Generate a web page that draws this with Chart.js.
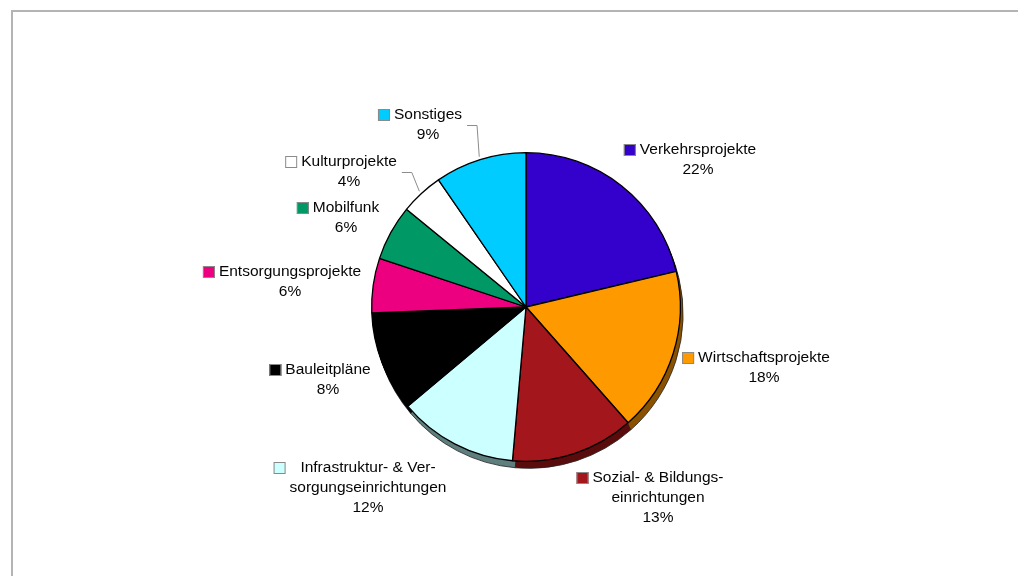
<!DOCTYPE html>
<html>
<head>
<meta charset="utf-8">
<script src="https://cdn.jsdelivr.net/npm/chart.js@4.4.1/dist/chart.umd.min.js"></script>
<style>
  body { margin: 0; background: #fff; }
  #wrap { position: relative; width: 1018px; height: 576px; overflow: hidden; }
  #frame { position: absolute; left: 11px; top: 10px; right: -4px; bottom: -4px; border-top: 2px solid #b4b4b4; border-left: 2px solid #b4b4b4; }
  canvas { position: absolute; left: 0; top: 0; }
</style>
</head>
<body>
<div id="wrap">
  <div id="frame"></div>
  <canvas id="mychart" width="1018" height="576"></canvas>
</div>
<script>
// data (shares, labels as printed)
const categories = [
  "Verkehrsprojekte",
  "Wirtschaftsprojekte",
  "Sozial- & Bildungs-\neinrichtungen",
  "Infrastruktur- & Ver-\nsorgungseinrichtungen",
  "Bauleitpläne",
  "Entsorgungsprojekte",
  "Mobilfunk",
  "Kulturprojekte",
  "Sonstiges",
];
const shares = [21.3, 17.2, 12.9, 12.5, 10.5, 5.7, 5.8, 4.5, 9.6];
const percentLabels = ["22%", "18%", "13%", "12%", "8%", "6%", "6%", "4%", "9%"];

// styling
const sliceColors = ["#3300cc", "#ff9900", "#a3161b", "#ccffff", "#000000", "#ec007f", "#009966", "#ffffff", "#00ccff"];
const sideColors = ["#1a006b", "#8a5200", "#5a0c0c", "#5f7f7f", "#000000", "#7a0042", "#004d33", "#888888", "#006b88"];
// label block anchor (first text line centre) relative to pie centre
const labelOffsets = [[172, -157], [238, 51], [132, 171], [-158, 161], [-198, 63], [-236, -35], [-180, -99], [-177, -145], [-98, -192]];
const withLeader = [false, false, false, false, false, false, false, true, true];

const depth = 7;

const sidePlugin = {
  id: "side",
  beforeDatasetsDraw(chart) {
    const ctx = chart.ctx;
    const arcs = chart.getDatasetMeta(0).data;
    ctx.save();
    arcs.forEach((arc, i) => {
      const p = arc.getProps(["x", "y", "startAngle", "endAngle", "outerRadius"], true);
      ctx.fillStyle = sideColors[i];
      for (let k = 1; k <= depth; k++) {
        ctx.beginPath();
        ctx.moveTo(p.x + k * 0.4, p.y + k);
        ctx.arc(p.x + k * 0.4, p.y + k, p.outerRadius, p.startAngle, p.endAngle);
        ctx.closePath();
        ctx.fill();
      }
      ctx.strokeStyle = "#222";
      ctx.lineWidth = 0.8;
      ctx.beginPath();
      ctx.moveTo(p.x + depth * 0.4, p.y + depth);
      ctx.arc(p.x + depth * 0.4, p.y + depth, p.outerRadius, p.startAngle, p.endAngle);
      ctx.closePath();
      ctx.stroke();
    });
    ctx.restore();
  },
};

const labelPlugin = {
  id: "outLabels",
  afterDatasetsDraw(chart) {
    const ctx = chart.ctx;
    const arcs = chart.getDatasetMeta(0).data;
    const lineH = 20;
    ctx.save();
    ctx.font = "15.5px 'Liberation Sans', Arial, sans-serif";
    ctx.textAlign = "center";
    ctx.textBaseline = "middle";
    arcs.forEach((arc, i) => {
      const p = arc.getProps(["x", "y", "startAngle", "endAngle", "outerRadius"], true);
      const cx = p.x + labelOffsets[i][0];
      const cy = p.y + labelOffsets[i][1];
      const nameLines = categories[i].split("\n");
      const lines = nameLines.concat(percentLabels[i]);
      const maxW = Math.max(...nameLines.map((l) => ctx.measureText(l).width));

      // colour key
      const sx = cx - maxW / 2 - 16;
      ctx.fillStyle = sliceColors[i];
      ctx.fillRect(sx, cy - 6, 12, 12);
      ctx.strokeStyle = "#8a8a8a";
      ctx.lineWidth = 1;
      ctx.strokeRect(sx + 0.5, cy - 5.5, 11, 11);

      ctx.fillStyle = "#050505";
      lines.forEach((l, j) => ctx.fillText(l, cx, cy + j * lineH));

      if (withLeader[i]) {
        const w0 = ctx.measureText(nameLines[0]).width;
        const mid = (p.startAngle + p.endAngle) / 2;
        const x0 = cx + w0 / 2 + 5;
        const y0 = cy + 10.5;
        ctx.strokeStyle = "#8c8c8c";
        ctx.beginPath();
        ctx.moveTo(x0, y0);
        ctx.lineTo(x0 + 10, y0);
        ctx.lineTo(p.x + Math.cos(mid) * (p.outerRadius + 3), p.y + Math.sin(mid) * (p.outerRadius + 3));
        ctx.stroke();
      }
    });
    ctx.restore();
  },
};

const ctx = document.getElementById("mychart").getContext("2d");

const myChart = new Chart(ctx, {
  type: "pie",
  data: {
    labels: categories,
    datasets: [
      {
        data: shares,
        backgroundColor: sliceColors,
        borderColor: "#000",
        borderWidth: 1.3,
      },
    ],
  },
  options: {
    responsive: false,
    animation: false,
    events: [],
    layout: { padding: { left: 371, right: 337, top: 152, bottom: 114 } },
    plugins: {
      legend: { display: false },
      tooltip: { enabled: false },
    },
  },
  plugins: [sidePlugin, labelPlugin],
});
</script>
</body>
</html>
